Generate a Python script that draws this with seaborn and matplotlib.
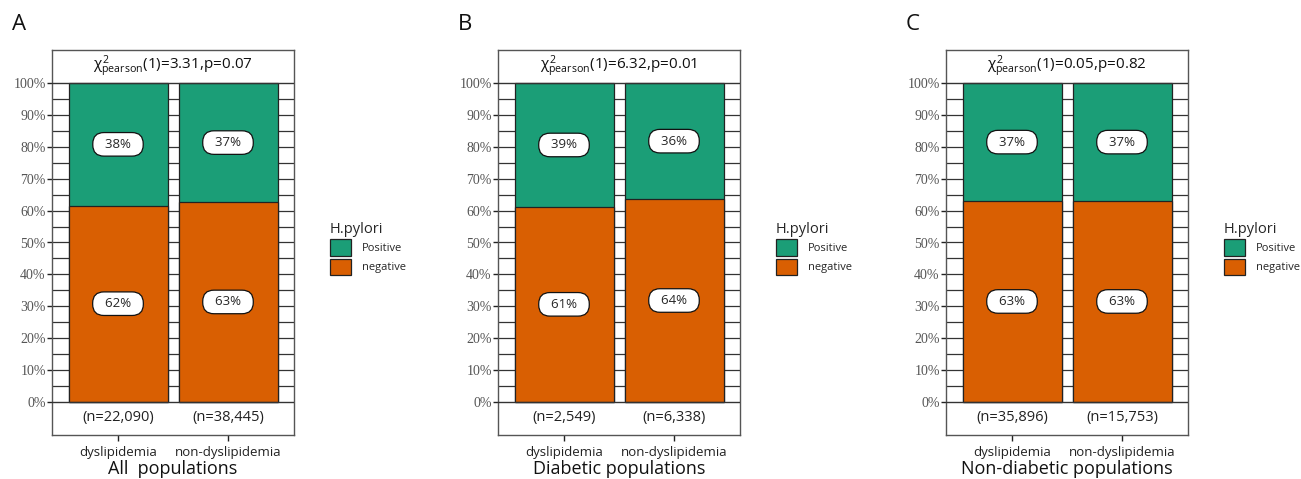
import numpy as np
import pandas as pd
import matplotlib
matplotlib.use("Agg")
import matplotlib.pyplot as plt
from matplotlib.patches import Patch
import seaborn as sns

# données
groupes = ["dyslipidemia", "non-dyslipidemia"]
lettres = ["A", "B", "C"]
populations = ["All  populations", "Diabetic populations", "Non-diabetic populations"]
pct_negatif_A = [61.6, 62.7]
pct_negatif_B = [61.2, 63.6]
pct_negatif_C = [63.0, 63.0]
effectifs_A = ["22,090", "38,445"]
effectifs_B = ["2,549", "6,338"]
effectifs_C = ["35,896", "15,753"]
chi2 = ["3.31", "6.32", "0.05"]
p_val = ["0.07", "0.01", "0.82"]

VERT = "#1B9E77"
ORANGE = "#D95F02"

sns.set_theme(style="white")
plt.rcParams["font.family"] = ["Open Sans", "DejaVu Sans"]
plt.rcParams["mathtext.fontset"] = "custom"
plt.rcParams["mathtext.rm"] = "Open Sans"
plt.rcParams["mathtext.it"] = "Open Sans"

fig = plt.figure(figsize=(13.01, 4.79), dpi=100)

gauches = [52, 498, 946]
panneaux = [
    (pct_negatif_A, effectifs_A),
    (pct_negatif_B, effectifs_B),
    (pct_negatif_C, effectifs_C),
]

for i, (neg, eff) in enumerate(panneaux):
    ax = fig.add_axes([gauches[i] / 1301, 1 - 435 / 479, 242 / 1301, 385 / 479])
    df = pd.DataFrame({"groupe": groupes, "negatif": neg, "total": [100.0, 100.0]})
    df["positif"] = df["total"] - df["negatif"]

    # grille horizontale tous les 5 % (visible entre les barres)
    for y in np.arange(5, 100, 5):
        ax.axhline(y, color="#333333", lw=0.9, zorder=0)
    ax.axhline(0, color="#333333", lw=1.0, zorder=3)
    ax.axhline(100, color="#333333", lw=1.0, zorder=3)

    sns.barplot(data=df, x="groupe", y="total", color=VERT, width=0.9,
                saturation=1, edgecolor="#222222", linewidth=0.9, ax=ax)
    sns.barplot(data=df, x="groupe", y="negatif", color=ORANGE, width=0.9,
                saturation=1, edgecolor="#222222", linewidth=0.9, ax=ax)
    for p in ax.patches:
        p.set_zorder(2)

    boite = dict(boxstyle="round,pad=0.4,rounding_size=0.85", fc="white",
                 ec="#111111", lw=0.9)
    for j, row in df.iterrows():
        ax.text(j, row["negatif"] / 2, f"  {round(row['negatif']):.0f}%  ",
                ha="center", va="center", fontsize=9.5, bbox=boite, zorder=5)
        ax.text(j, row["negatif"] + row["positif"] / 2,
                f"  {round(row['positif']):.0f}%  ",
                ha="center", va="center", fontsize=9.5, bbox=boite, zorder=5)
        ax.text(j, -5.0, f"(n={eff[j]})", ha="center", va="center",
                fontsize=10.5, color="#222222")

    ax.text(0.5, 105.3,
            r"$\chi^2_{\mathrm{pearson}}$" + f"(1)={chi2[i]},p={p_val[i]}",
            ha="center", va="center", fontsize=11, color="#111111")

    ax.set_xlim(-0.6, 1.6)
    ax.set_ylim(-10.4, 110.4)
    ax.set_yticks(np.arange(0, 101, 10))
    ax.set_yticklabels([f"{v}%" for v in range(0, 101, 10)],
                       family="Liberation Serif", fontsize=10, color="#555555")
    ax.tick_params(axis="y", length=3.5, width=1, color="#222222", pad=1,
                   left=True)
    ax.tick_params(axis="x", length=4, width=1, color="#222222", pad=4,
                   bottom=True, labelsize=9.5, labelcolor="#222222")
    ax.set_xlabel(populations[i], fontsize=13, color="#111111", labelpad=1)
    ax.set_ylabel("")
    for s in ax.spines.values():
        s.set_color("#555555")
        s.set_linewidth(1.0)

    poignees = [Patch(fc=VERT, ec="#222222", lw=0.9, label="Positive"),
                Patch(fc=ORANGE, ec="#222222", lw=0.9, label="negative")]
    leg = ax.legend(handles=poignees, title="H.pylori", loc="center left",
                    bbox_to_anchor=(1.13, 0.485), frameon=False, fontsize=8,
                    title_fontsize=10.5, handlelength=1.9, handleheight=1.9,
                    handletextpad=1.0, labelspacing=0.25, borderaxespad=0)
    leg._legend_box.align = "left"

    fig.text((gauches[i] - 40) / 1301, 1 - 24 / 479, lettres[i],
             fontsize=16, ha="left", va="center", color="#111111")

fig.savefig("out.png", dpi=100)
